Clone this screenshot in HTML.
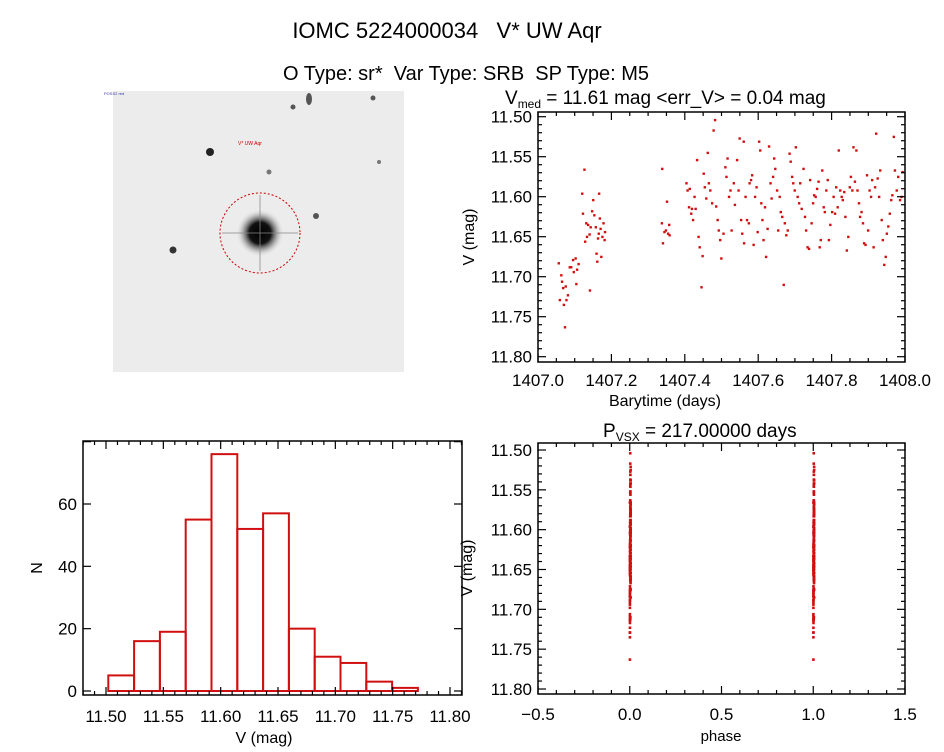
<!DOCTYPE html>
<html><head><meta charset="utf-8"><style>
body{margin:0;background:#fff}
svg text{font-family:"Liberation Sans",sans-serif;fill:#000;white-space:pre}
</style></head><body>
<svg id="c" width="944" height="747" viewBox="0 0 944 747" xmlns="http://www.w3.org/2000/svg">
<defs><radialGradient id="sg"><stop offset="0" stop-color="#000"/><stop offset="0.45" stop-color="#111"/><stop offset="0.7" stop-color="#777" stop-opacity="0.6"/><stop offset="1" stop-color="#ececec" stop-opacity="0"/></radialGradient></defs>
<text x="447" y="38" font-size="22" text-anchor="middle" xml:space="preserve">IOMC 5224000034   V* UW Aqr</text>
<text x="466" y="80" font-size="20" text-anchor="middle" xml:space="preserve">O Type: sr*  Var Type: SRB  SP Type: M5</text>
<g>
<rect x="113" y="91" width="291" height="281" fill="#ececec"/>
<circle cx="260" cy="233" r="24" fill="url(#sg)"/>
<line x1="222" y1="233" x2="298" y2="233" stroke="#888" stroke-width="1.5" opacity="0.5"/>
<line x1="260" y1="195" x2="260" y2="271" stroke="#888" stroke-width="1.5" opacity="0.5"/>
<circle cx="260" cy="233" r="40" fill="none" stroke="#c00" stroke-width="1" stroke-dasharray="2,2"/>
<circle cx="210" cy="152" r="4" fill="#222"/>
<circle cx="173" cy="250" r="3.5" fill="#333"/>
<circle cx="316" cy="216" r="3" fill="#555"/>
<circle cx="293" cy="107" r="2.5" fill="#555"/>
<ellipse cx="309" cy="99" rx="3" ry="6" fill="#555"/>
<circle cx="373" cy="98" r="2.5" fill="#555"/>
<circle cx="269" cy="172" r="2.5" fill="#777"/>
<circle cx="379" cy="162" r="2" fill="#777"/>
<text x="238" y="145" font-size="5" style="fill:#c00">V* UW Aqr</text>
<text x="104" y="95" font-size="4" style="fill:#33a">POSS2 red</text>
</g>
<g id="p1"></g>
<g id="p2"></g>
<g id="p3"></g>
</svg>
<script>
const lcTime=[1407.056,1407.059,1407.063,1407.065,1407.068,1407.070,1407.073,1407.075,1407.077,1407.081,1407.086,1407.090,1407.095,1407.097,1407.102,1407.104,1407.106,1407.110,
1407.120,1407.122,1407.126,1407.128,1407.131,1407.133,1407.136,1407.140,1407.141,1407.143,1407.147,1407.150,1407.153,1407.157,1407.161,1407.163,1407.166,1407.168,1407.170,1407.172,1407.175,1407.178,1407.181,1407.182,1407.165,1407.159,
1407.338,1407.337,1407.340,1407.344,1407.348,1407.351,1407.354,1407.357,1407.358,
1407.404,1407.407,1407.411,1407.413,1407.417,1407.419,1407.422,1407.426,1407.429,1407.433,1407.437,1407.440,1407.445,1407.448,1407.451,1407.454,1407.458,1407.462,1407.465,1407.469,1407.474,1407.478,1407.482,1407.485,1407.489,1407.492,1407.496,1407.499,1407.505,1407.510,1407.513,1407.516,1407.520,1407.524,1407.527,1407.533,1407.536,1407.542,1407.546,1407.549,1407.553,1407.556,1407.560,1407.561,1407.565,1407.569,1407.574,1407.576,1407.580,1407.583,1407.587,1407.591,1407.595,1407.598,1407.602,1407.605,1407.608,1407.611,1407.614,1407.618,1407.621,1407.625,1407.629,1407.633,1407.636,1407.640,1407.643,1407.646,1407.651,1407.654,1407.658,1407.661,1407.665,1407.669,1407.672,1407.676,1407.680,1407.685,1407.688,1407.692,1407.695,1407.699,1407.702,1407.707,1407.711,1407.714,1407.718,1407.723,1407.727,1407.730,1407.734,1407.738,1407.741,1407.745,1407.749,1407.752,1407.756,1407.760,1407.764,1407.767,1407.770,1407.774,1407.778,1407.781,1407.785,1407.789,1407.792,1407.796,1407.801,1407.805,1407.809,1407.812,1407.816,1407.819,1407.823,1407.827,1407.830,1407.834,1407.837,1407.841,1407.845,1407.849,1407.852,1407.856,1407.859,1407.863,1407.867,1407.870,1407.874,1407.877,1407.881,1407.885,1407.888,1407.892,1407.896,1407.899,1407.903,1407.907,1407.910,1407.914,1407.918,1407.921,1407.925,1407.929,1407.932,1407.936,1407.939,1407.943,1407.947,1407.950,1407.954,1407.958,1407.962,1407.965,1407.969,1407.972,1407.977,1407.981,1407.986,1407.990,1407.993];
const lcMag=[11.683,11.729,11.698,11.706,11.714,11.735,11.763,11.712,11.729,11.723,11.688,11.688,11.679,11.694,11.677,11.709,11.691,11.684,
11.596,11.621,11.566,11.656,11.633,11.650,11.635,11.647,11.717,11.638,11.618,11.604,11.623,11.638,11.681,11.652,11.596,11.627,11.640,11.675,11.650,11.633,11.654,11.644,11.646,11.671,
11.565,11.633,11.658,11.644,11.642,11.606,11.646,11.635,11.648,
11.583,11.592,11.613,11.590,11.621,11.615,11.629,11.600,11.615,11.554,11.650,11.663,11.713,11.674,11.571,11.588,11.602,11.545,11.583,11.592,11.608,11.517,11.504,11.612,11.629,11.642,11.654,11.677,11.646,11.563,11.575,11.552,11.600,11.592,11.642,11.583,11.610,11.554,11.592,11.527,11.629,11.646,11.531,11.658,11.600,11.629,11.633,11.583,11.579,11.573,11.660,11.600,11.588,11.644,11.531,11.542,11.608,11.629,11.654,11.613,11.675,11.640,11.537,11.583,11.602,11.575,11.552,11.565,11.592,11.642,11.600,11.619,11.625,11.710,11.633,11.648,11.642,11.546,11.556,11.575,11.583,11.592,11.538,11.600,11.608,11.583,11.615,11.565,11.625,11.642,11.663,11.665,11.579,11.633,11.608,11.598,11.600,11.590,11.581,11.663,11.654,11.567,11.613,11.619,11.592,11.579,11.654,11.635,11.619,11.600,11.621,11.588,11.613,11.542,11.592,11.600,11.604,11.594,11.625,11.667,11.650,11.588,11.575,11.592,11.538,11.581,11.542,11.592,11.608,11.625,11.619,11.633,11.658,11.660,11.573,11.642,11.592,11.600,11.579,11.663,11.588,11.521,11.577,11.600,11.567,11.629,11.654,11.685,11.675,11.646,11.637,11.621,11.604,11.598,11.525,11.567,11.592,11.575,11.604,11.600,11.569];
const histCounts=[5,16,19,55,76,52,57,20,11,9,3,1];
const histStart=11.502, histWidth=0.0225;
const period=217.0;
const lcXTicks=["1407.0","1407.2","1407.4","1407.6","1407.8","1408.0"];
const magTicks=["11.50","11.55","11.60","11.65","11.70","11.75","11.80"];
const histYTicks=["0","20","40","60"];
const phaseTicks=["-0.5","0.0","0.5","1.0","1.5"];

const NS="http://www.w3.org/2000/svg";
function mk(g,tag,a){const e=document.createElementNS(NS,tag);for(const k in a)e.setAttribute(k,a[k]);g.appendChild(e);return e;}
function lin(d0,d1,r0,r1){return v=>r0+(v-d0)*(r1-r0)/(d1-d0);}
function frame(g,x0,y0,x1,y1,xs,ys,xt,xmin,yt,ymin){
  const b=mk(g,'rect',{x:x0,y:y0,width:x1-x0,height:y1-y0,fill:'none',stroke:'#000','stroke-width':1.5});
  
  for(let v=xs.d0;v<=xs.d1+1e-9;v+=xmin){const x=xs(v);if(x<x0-0.5||x>x1+0.5)continue;
    const maj=Math.abs(Math.round((v-xt.start)/xt.step)*xt.step-(v-xt.start))<1e-6;const L=maj?8:4;
    mk(g,'line',{x1:x,y1:y1,x2:x,y2:y1-L,stroke:'#000','stroke-width':1.2});mk(g,'line',{x1:x,y1:y0,x2:x,y2:y0+L,stroke:'#000','stroke-width':1.2});}
  for(let v=ys.d0;v<=ys.d1+1e-9;v+=ymin){const y=ys(v);if(y<y0-0.5||y>y1+0.5)continue;
    const maj=Math.abs(Math.round((v-yt.start)/yt.step)*yt.step-(v-yt.start))<1e-6;const L=maj?8:4;
    mk(g,'line',{x1:x0,y1:y,x2:x0+L,y2:y,stroke:'#000','stroke-width':1.2});mk(g,'line',{x1:x1,y1:y,x2:x1-L,y2:y,stroke:'#000','stroke-width':1.2});}
}
function label(g,x,y,t,sz,anchor,name,rot){const e=mk(g,'text',{x:x,y:y,'font-size':sz,'text-anchor':anchor||'middle'});
  if(rot)e.setAttribute('transform','rotate(-90 '+x+' '+y+')');e.textContent=t;
  return e;}

// Panel 1: light curve
{const g=document.getElementById('p1');
 const x0=538,x1=905,y0=112,y1=362;
 const xs=lin(1407,1408,538,905), ys=lin(11.5,11.8,116.7,356.7);
 xs.d0=1407;xs.d1=1408;ys.d0=11.49;ys.d1=11.81;
 for(let i=0;i<lcTime.length;i++){const r=mk(g,'rect',{x:xs(lcTime[i])-1,y:ys(lcMag[i])-1,width:2.4,height:2.4,fill:'#d01010'});
   }
 frame(g,x0,y0,x1,y1,xs,ys,{start:1407,step:0.2},0.05,{start:11.5,step:0.05},0.01);
 lcXTicks.forEach(t=>label(g,xs(+t),386,t,17,'middle','x-tick-label'));
 magTicks.forEach(t=>label(g,532,ys(+t)+6,t,17,'end','y-tick-label'));
 label(g,474,237,'V (mag)',16,'middle','y-axis-title',true);
 label(g,665,406,'Barytime (days)',16,'middle','x-axis-title');
 const tt=label(g,505,104,'',19,'start','panel-title');
 tt.innerHTML='V<tspan font-size="12" dy="4">med</tspan><tspan dy="-4"> = 11.61 mag &lt;err_V&gt; = 0.04 mag</tspan>';
}
// Panel 2: histogram
{const g=document.getElementById('p2');
 const x0=83,x1=462,y0=441,y1=695;
 const xs=lin(11.5,11.8,106,450), ys=lin(0,60,691,504);
 xs.d0=11.48;xs.d1=11.82;ys.d0=0;ys.d1=80;
 histCounts.forEach((c,i)=>{const a=histStart+i*histWidth;const xa=xs(a),xb=xs(a+histWidth);
   const r=mk(g,'rect',{x:xa,y:ys(c),width:xb-xa,height:ys(0)-ys(c),fill:'none',stroke:'#d01010','stroke-width':2});
   });
 frame(g,x0,y0,x1,y1,xs,ys,{start:11.5,step:0.05},0.01,{start:0,step:20},20);
 magTicks.forEach(t=>label(g,xs(+t),722,t,17,'middle','x-tick-label'));
 histYTicks.forEach(t=>label(g,77,ys(+t)+6,t,17,'end','y-tick-label'));
 label(g,42,568,'N',16,'middle','y-axis-title',true);
 label(g,264,743,'V (mag)',16,'middle','x-axis-title');
}
// Panel 3: phase
{const g=document.getElementById('p3');
 const x0=538,x1=905,y0=443,y1=694;
 const xs=lin(-0.5,1.5,538,905), ys=lin(11.5,11.8,450,689);
 xs.d0=-0.5;xs.d1=1.5;ys.d0=11.49;ys.d1=11.81;
 for(let i=0;i<lcTime.length;i++){const ph=((lcTime[i]-1407)/period)%1;
   [ph,ph+1].forEach(p=>{const r=mk(g,'rect',{x:xs(p)-1.2,y:ys(lcMag[i])-1.2,width:2.6,height:2.6,fill:'#d01010'});
   });}
 frame(g,x0,y0,x1,y1,xs,ys,{start:-0.5,step:0.5},0.1,{start:11.5,step:0.05},0.01);
 phaseTicks.forEach(t=>label(g,xs(+t),720,t.replace('-','\u2212'),17,'middle','x-tick-label'));
 magTicks.forEach(t=>label(g,532,ys(+t)+6,t,17,'end','y-tick-label'));
 label(g,472,568,'V (mag)',16,'middle','y-axis-title',true);
 label(g,721,741,'phase',15,'middle','x-axis-title');
 const tt=label(g,603,437,'',19,'start','panel-title');
 tt.innerHTML='P<tspan font-size="12" dy="4">VSX</tspan><tspan dy="-4"> = 217.00000 days</tspan>';
}
</script>
</body></html>
